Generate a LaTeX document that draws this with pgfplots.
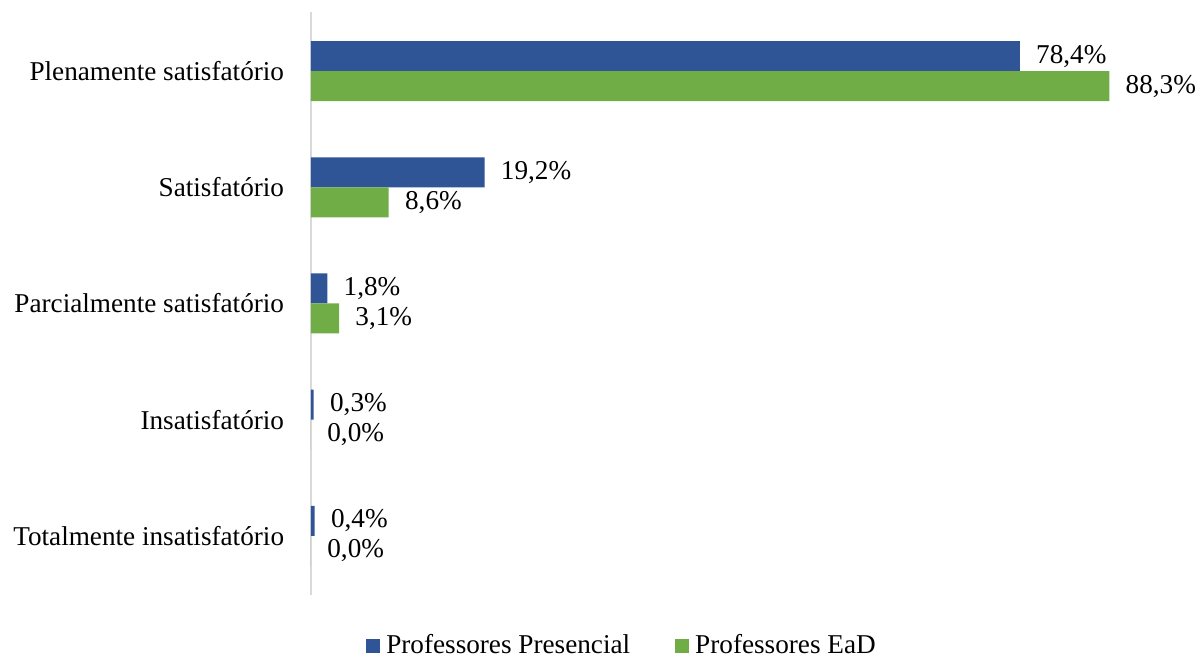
\documentclass[border=0pt]{standalone}
\usepackage{pgfplots}
\pgfplotsset{compat=1.18}
\usepackage{fontspec}
\setmainfont{Liberation Serif}
\definecolor{cblue}{HTML}{2F5597}
\definecolor{cgreen}{HTML}{70AD47}
\begin{document}
\fontsize{13.6}{16}\selectfont
\begin{tikzpicture}
\useasboundingbox (-155.5pt,-31.5pt) rectangle (444pt,297.5pt);
\begin{axis}[
  at={(0pt,0pt)}, anchor=south west,
  scale only axis, width=419.5pt, height=291.5pt,
  xbar, bar width=15pt,
  xmin=0, xmax=92.8, ymin=-0.51, ymax=4.51,
  axis x line=none,
  axis y line*=left,
  y axis line style={draw=black!15, line width=1pt},
  ytick={0,1,2,3,4},
  yticklabels={Totalmente insatisfatório, Insatisfatório, Parcialmente satisfatório, Satisfatório, Plenamente satisfatório},
  ytick style={draw=none},
  yticklabel style={font=\fontsize{13.6}{16}\selectfont, inner sep=0pt, xshift=-9pt},
  point meta=explicit symbolic,
  nodes near coords,
  nodes near coords style={font=\fontsize{13.6}{16}\selectfont, anchor=west, inner sep=0pt, xshift=8pt},
  legend style={at={(0.3719,-0.087)}, anchor=center, draw=none, legend columns=2,
    font=\fontsize{13.6}{16}\selectfont,
    /tikz/every even column/.append style={column sep=20.5pt}},
  legend image code/.code={\fill[#1,draw=none] (0pt,-3.5pt) rectangle (7pt,3.5pt);},
  legend cell align=left,
]
\addplot[fill=cblue, draw=none, bar shift=7.5pt] coordinates {
  (0.4,0) [0,4\%]
  (0.3,1) [0,3\%]
  (1.8,2) [1,8\%]
  (19.2,3) [19,2\%]
  (78.4,4) [78,4\%]
};
\addplot[fill=cgreen, draw=none, bar shift=-7.5pt] coordinates {
  (0,0) [0,0\%]
  (0,1) [0,0\%]
  (3.1,2) [3,1\%]
  (8.6,3) [8,6\%]
  (88.3,4) [88,3\%]
};
\legend{\hspace{1pt}Professores Presencial, \hspace{1pt}Professores EaD}
\end{axis}
\end{tikzpicture}
\end{document}
